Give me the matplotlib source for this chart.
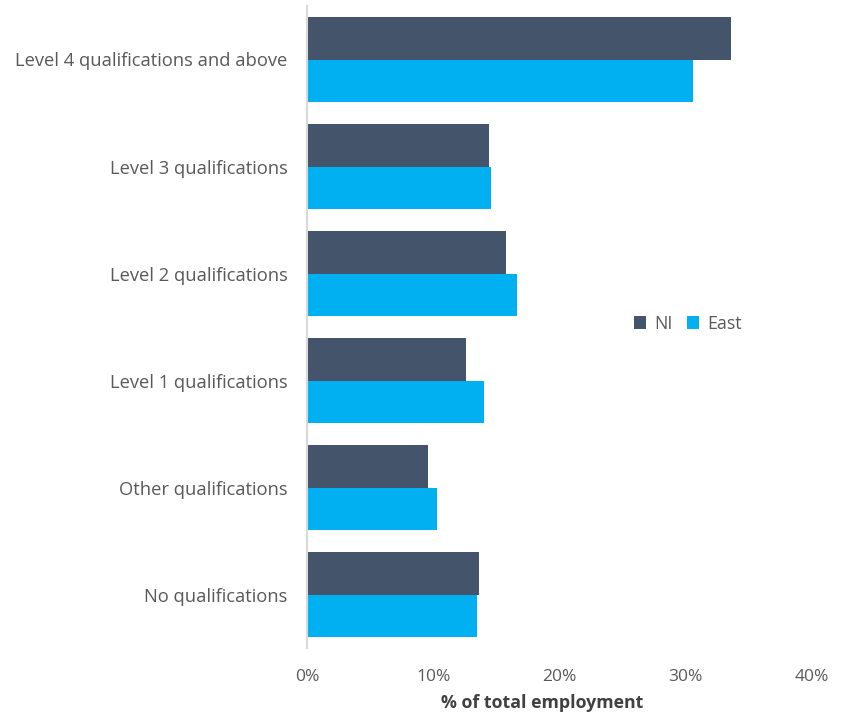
import matplotlib
matplotlib.use("Agg")
import matplotlib.pyplot as plt
import numpy as np
from matplotlib.ticker import FuncFormatter

categories = ["Level 4 qualifications and above", "Level 3 qualifications",
              "Level 2 qualifications", "Level 1 qualifications",
              "Other qualifications", "No qualifications"]
ni = [33.6, 14.4, 15.8, 12.6, 9.6, 13.6]
east = [30.6, 14.6, 16.6, 14.0, 10.3, 13.5]
xticks = [0, 10, 20, 30, 40]

plt.rcParams['font.family'] = ['Open Sans', 'DejaVu Sans']
fig = plt.figure(figsize=(8.46, 7.14), dpi=100)
ax = fig.add_axes([0.3629, 0.0924, 0.5969, 0.8992])

y = np.arange(len(categories))
h = 0.4
ax.barh(y - h/2, ni, height=h, color='#44546A', label='NI')
ax.barh(y + h/2, east, height=h, color='#00B0F0', label='East')

ax.set_ylim(len(categories) - 0.5, -0.5)
ax.set_xlim(0, 40)
ax.set_yticks(y)
ax.set_yticklabels(categories, fontsize=13.2, color='#595959')
ax.set_xticks(xticks)
ax.xaxis.set_major_formatter(FuncFormatter(lambda v, p: f"{v:.0f}%"))
ax.tick_params(axis='x', labelsize=12.5, labelcolor='#595959', length=0, pad=15)
ax.tick_params(axis='y', length=0, pad=14)
for s in ['top', 'right', 'bottom']:
    ax.spines[s].set_visible(False)
ax.spines['left'].set_color('#D9D9D9')
ax.spines['left'].set_linewidth(1.5)

ax.set_xlabel('% of total employment', fontsize=12.8, fontweight='bold', color='#404040', labelpad=6)
ax.xaxis.set_label_coords(0.465, -0.072)

leg = ax.legend(loc='center left', bbox_to_anchor=(0.615, 0.505), ncol=2, frameon=False,
                fontsize=12.8, handlelength=0.7, handleheight=0.7, columnspacing=0.8,
                handletextpad=0.45)
for t in leg.get_texts():
    t.set_color('#595959')

fig.savefig('out.png', dpi=100)
